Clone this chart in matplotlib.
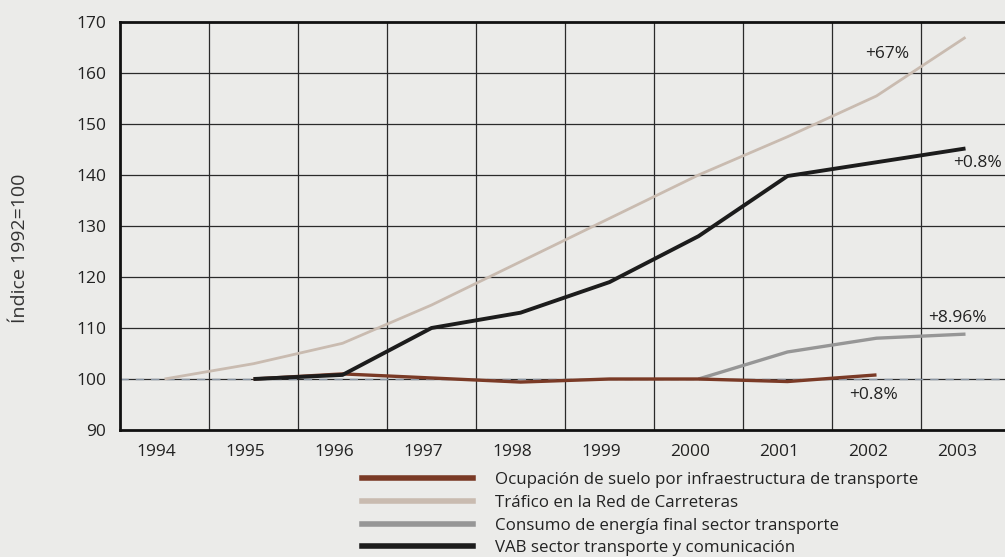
import matplotlib
matplotlib.use("Agg")
import matplotlib.pyplot as plt
import matplotlib.transforms as mtransforms
from matplotlib.lines import Line2D

plt.rcParams['font.family'] = ['Open Sans', 'DejaVu Sans']

years = [1994, 1995, 1996, 1997, 1998, 1999, 2000, 2001, 2002, 2003]

ocup_years = [1995, 1996, 1997, 1998, 1999, 2000, 2001, 2002]
ocup_vals = [100.0, 101.0, 100.2, 99.4, 100.0, 100.0, 99.5, 100.8]

trafico_years = [1994, 1995, 1996, 1997, 1998, 1999, 2000, 2001, 2002, 2003]
trafico_vals = [100.0, 103.0, 107.0, 114.5, 123.0, 131.5, 140.0, 147.5, 155.5, 167.0]

consumo_years = [2000, 2001, 2002, 2003]
consumo_vals = [100.0, 105.3, 108.0, 108.8]

vab_years = [1995, 1996, 1997, 1998, 1999, 2000, 2001, 2002, 2003]
vab_vals = [100.0, 100.8, 110.0, 113.0, 119.0, 128.0, 139.8, 142.5, 145.2]

series_names = [
    "Ocupación de suelo por infraestructura de transporte",
    "Tráfico en la Red de Carreteras",
    "Consumo de energía final sector transporte",
    "VAB sector transporte y comunicación",
]
yticks = [90, 100, 110, 120, 130, 140, 150, 160, 170]

bg = "#ebebe9"
c_ocup = "#7a3a26"
c_traf = "#c9bbb0"
c_cons = "#969696"
c_vab = "#1c1c1c"
grid_c = "#2a2a2a"
txt_c = "#222222"
fs = 12.5

fig = plt.figure(figsize=(10.05, 5.57), dpi=100, facecolor=bg)
ax = fig.add_axes([120/1005, (557-430)/557, 890/1005, (430-22)/557])
ax.set_facecolor(bg)

ax.set_xlim(1993.5, 2003.5)
ax.set_ylim(90, 170)

# grid
for xv in [y + 0.5 for y in years[:-1]]:
    ax.axvline(xv, color=grid_c, lw=0.9, zorder=1)
for yv in yticks[1:-1]:
    ax.axhline(yv, color=grid_c, lw=0.9, zorder=1)

ax.axhline(100, color="#8a96a4", lw=1.0, ls=(0, (6, 5)), zorder=2)

ax.plot(trafico_years, trafico_vals, color=c_traf, lw=2.0, zorder=3, solid_capstyle='butt')
ax.plot(consumo_years, consumo_vals, color=c_cons, lw=2.4, zorder=3, solid_capstyle='butt')
ax.plot(ocup_years, ocup_vals, color=c_ocup, lw=2.4, zorder=4, solid_capstyle='butt')
ax.plot(vab_years, vab_vals, color=c_vab, lw=2.8, zorder=5, solid_capstyle='butt')

for s in ['left', 'bottom', 'top']:
    ax.spines[s].set_linewidth(2.0)
    ax.spines[s].set_color("#111111")
ax.spines['right'].set_visible(False)

ax.set_xticks(years)
ax.set_xticklabels([str(y) for y in years], fontsize=fs, color=txt_c)
ax.set_yticks(yticks)
ax.set_yticklabels([str(v) for v in yticks], fontsize=fs, color=txt_c)
ax.tick_params(length=0, pad=10)
ax.tick_params(axis='x', pad=10)
offset = mtransforms.ScaledTranslation(-8/100, 0, fig.dpi_scale_trans)
for lbl in ax.get_xticklabels():
    lbl.set_transform(lbl.get_transform() + offset)

fig.text(20/1005, 1 - 248/557, "Índice 1992=100", rotation=90, ha='center', va='center',
         fontsize=14, color="#333333")

ax.annotate("+67%", xy=(2002.12, 163.7), fontsize=fs, ha='center', va='center', color=txt_c)
ax.annotate("+0.8%", xy=(2003.13, 142.4), fontsize=fs, ha='center', va='center', color=txt_c)
ax.annotate("+8.96%", xy=(2002.91, 112.0), fontsize=fs, ha='center', va='center', color=txt_c)
ax.annotate("+0.8%", xy=(2001.97, 96.9), fontsize=fs, ha='center', va='center', color=txt_c)

# legend
handles = [Line2D([], [], color=c, lw=4.0) for c in [c_ocup, c_traf, c_cons, c_vab]]
leg = fig.legend(handles, series_names, loc='upper left',
                 bbox_to_anchor=(362/1005, 1 - 472/557), frameon=False,
                 fontsize=12.2, handlelength=6.55, handletextpad=1.3,
                 labelspacing=0.4, borderpad=0, borderaxespad=0)
for t in leg.get_texts():
    t.set_color(txt_c)

fig.savefig("out.png", dpi=100, facecolor=bg)
